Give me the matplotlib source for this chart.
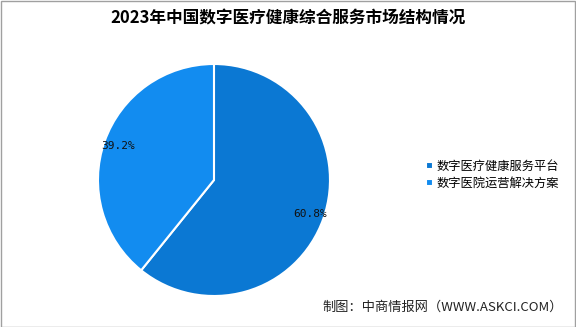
import matplotlib.pyplot as plt
from matplotlib.patches import Rectangle

plt.rcParams['font.family'] = ['Noto Sans CJK SC', 'DejaVu Sans']

# Data
labels = ['数字医疗健康服务平台', '数字医院运营解决方案']
shares = [60.8, 39.2]
colors = ['#0B78D3', '#128CF0']

fig = plt.figure(figsize=(5.76, 3.27), dpi=100)
ax = fig.add_axes([0.170, 0.0948, 0.403, 0.7095])
wedges, texts, autotexts = ax.pie(
    shares, colors=colors, startangle=90, counterclock=False,
    autopct='%.1f%%', pctdistance=0.88,
    wedgeprops=dict(edgecolor='white', linewidth=1.5),
    textprops=dict(fontsize=8, color='#111111', family='DejaVu Sans Mono'))
ax.set_xlim(-1.0, 1.0)
ax.set_ylim(-1.0, 1.0)
ax.set_aspect('equal')

fig.text(0.5, 0.945, '2023年中国数字医疗健康综合服务市场结构情况',
         ha='center', va='center', fontsize=12, fontweight='bold')

leg = fig.legend(wedges, labels, loc='center left', bbox_to_anchor=(0.735, 0.465),
                 frameon=False, fontsize=8.8, handlelength=0.55, handleheight=0.55,
                 handletextpad=0.3, labelspacing=0.3, borderaxespad=0, borderpad=0.2)

fig.text(0.977, 0.06, '制图：中商情报网（WWW.ASKCI.COM）', ha='right', va='center',
         fontsize=9.5, color='#222222')

fig.patches.append(Rectangle((0.001, 0.001), 0.997, 0.996, transform=fig.transFigure,
                             fill=False, edgecolor='#A0A0A0', linewidth=1))

fig.savefig('out.png', dpi=100)
